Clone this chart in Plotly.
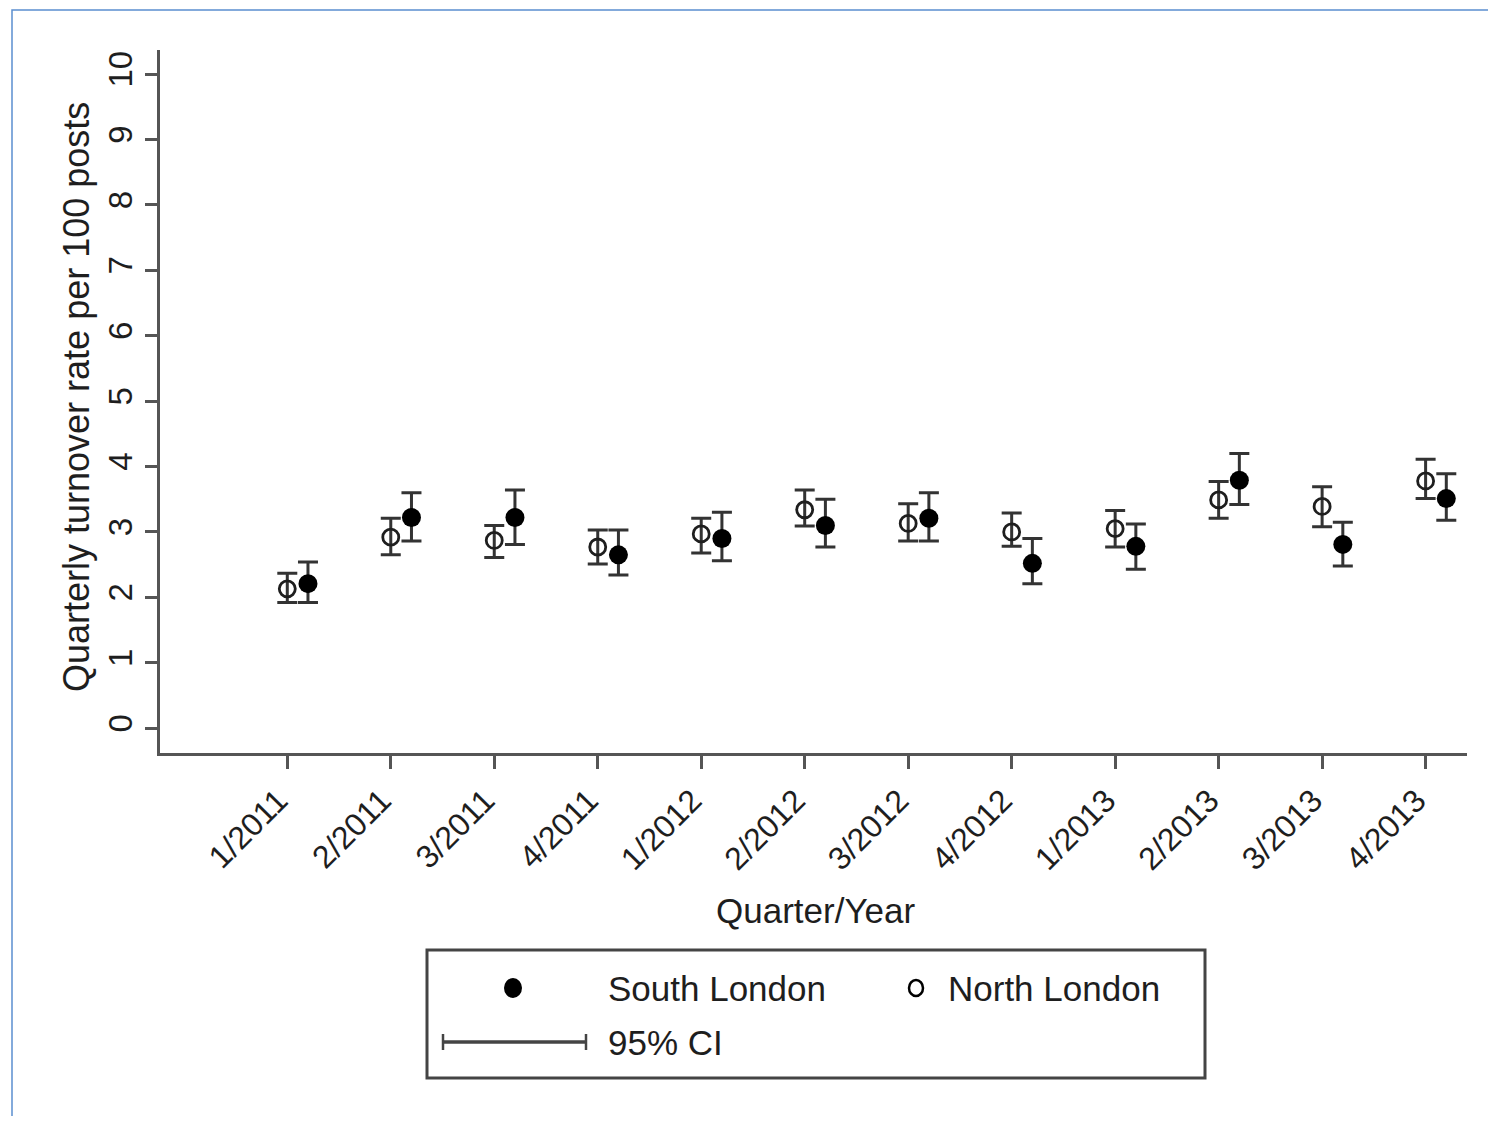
import plotly.graph_objects as go

quarters = ["1/2011", "2/2011", "3/2011", "4/2011", "1/2012", "2/2012",
            "3/2012", "4/2012", "1/2013", "2/2013", "3/2013", "4/2013"]

north = [2.13, 2.92, 2.87, 2.77, 2.97, 3.34, 3.13, 3.00, 3.05, 3.49, 3.39, 3.78]
north_hi = [2.37, 3.21, 3.10, 3.03, 3.21, 3.64, 3.43, 3.29, 3.33, 3.77, 3.69, 4.11]
north_lo = [1.92, 2.65, 2.61, 2.51, 2.68, 3.09, 2.86, 2.78, 2.77, 3.21, 3.08, 3.51]

south = [2.21, 3.22, 3.22, 2.65, 2.90, 3.10, 3.21, 2.52, 2.78, 3.79, 2.81, 3.51]
south_hi = [2.54, 3.60, 3.64, 3.03, 3.30, 3.50, 3.60, 2.90, 3.12, 4.20, 3.15, 3.89]
south_lo = [1.92, 2.86, 2.81, 2.34, 2.56, 2.77, 2.86, 2.21, 2.43, 3.42, 2.48, 3.18]

idx = list(range(len(quarters)))
offset = 0.2
FONT = "Arial, Liberation Sans, sans-serif"
INK = "#1e1e1e"
AXIS = "#555555"

fig = go.Figure()
fig.add_trace(go.Scatter(
    x=idx, y=north, mode="markers", name="North London",
    marker=dict(symbol="circle-open", size=16, color=INK, line=dict(width=2.8, color=INK)),
    error_y=dict(type="data", symmetric=False,
                 array=[h - v for h, v in zip(north_hi, north)],
                 arrayminus=[v - l for l, v in zip(north_lo, north)],
                 color="#333333", thickness=3, width=10),
))
fig.add_trace(go.Scatter(
    x=[i + offset for i in idx], y=south, mode="markers", name="South London",
    marker=dict(symbol="circle", size=19, color="#000000"),
    error_y=dict(type="data", symmetric=False,
                 array=[h - v for h, v in zip(south_hi, south)],
                 arrayminus=[v - l for l, v in zip(south_lo, south)],
                 color="#333333", thickness=3, width=10),
))

# page body adds an 8px margin; work in screen coordinates and convert
OFF = 8
W, H = 1480, 1108
PL, PR, PT, PB = 160, 1467, 50, 753  # plot area in screen px
L, R, T, B = PL - OFF, W - (PR - OFF), PT - OFF, H - (PB - OFF)
pw, ph = W - L - R, H - T - B

def px(x):
    return (x - OFF - L) / pw

def py(y):
    return (H - B - (y - OFF)) / ph

def circle(cx, cy, rx, ry, filled):
    return dict(type="circle", xref="paper", yref="paper",
                x0=px(cx - rx), x1=px(cx + rx), y0=py(cy + ry), y1=py(cy - ry),
                line=dict(color="#000", width=0 if filled else 2.5),
                fillcolor="#000" if filled else "rgba(0,0,0,0)")

shapes = [
    dict(type="rect", xref="paper", yref="paper", x0=px(12), x1=px(1510), y0=py(10), y1=py(1140),
         line=dict(color="#5b8fd0", width=1.5), fillcolor="rgba(0,0,0,0)", layer="below"),
    dict(type="rect", xref="paper", yref="paper", x0=px(427), x1=px(1205), y0=py(950), y1=py(1078),
         line=dict(color="#444444", width=3), fillcolor="white"),
    circle(513, 988, 9, 10, True),
    circle(916, 988, 7, 8, False),
    dict(type="line", xref="paper", yref="paper", x0=px(443), x1=px(586), y0=py(1042), y1=py(1042),
         line=dict(color="#444444", width=3.5)),
    dict(type="line", xref="paper", yref="paper", x0=px(443), x1=px(443), y0=py(1034), y1=py(1050),
         line=dict(color="#444444", width=2.5)),
    dict(type="line", xref="paper", yref="paper", x0=px(586), x1=px(586), y0=py(1034), y1=py(1050),
         line=dict(color="#444444", width=2.5)),
]

def label(x, y, text, size, xanchor="left", angle=0):
    return dict(xref="paper", yref="paper", x=px(x), y=py(y), text=text, showarrow=False,
                textangle=angle, font=dict(size=size, color=INK, family=FONT),
                xanchor=xanchor, yanchor="middle")

annotations = [
    label(606, 988, "South London", 35),
    label(946, 988, "North London", 35),
    label(606, 1042, "95% CI", 35),
    label(815, 910, "Quarter/Year", 35, xanchor="center"),
    label(76, 397, "Quarterly turnover rate per 100 posts", 36, xanchor="center", angle=-90),
]

fig.update_layout(
    width=W, height=H,
    margin=dict(l=L, r=R, t=T, b=B, pad=0),
    paper_bgcolor="white", plot_bgcolor="white",
    showlegend=False,
    shapes=shapes, annotations=annotations,
    font=dict(family=FONT, color=INK),
)
fig.update_xaxes(
    range=[-1.23, 11.4], tickvals=idx, ticktext=quarters, tickangle=-45,
    tickfont=dict(size=32, family=FONT, color=INK),
    ticklabelshift=-9,
    showline=True, linecolor=AXIS, linewidth=3,
    ticks="outside", ticklen=13, tickwidth=2.5, tickcolor=AXIS,
    showgrid=False, zeroline=False,
)
fig.update_yaxes(
    range=[-0.38, 10.37], tickvals=list(range(0, 11)), tickangle=-90,
    tickfont=dict(size=33, family=FONT, color=INK),
    showline=True, linecolor=AXIS, linewidth=3,
    ticks="outside", ticklen=12, tickwidth=2.5, tickcolor=AXIS,
    showgrid=False, zeroline=False,
)

fig.write_html("out.html")
